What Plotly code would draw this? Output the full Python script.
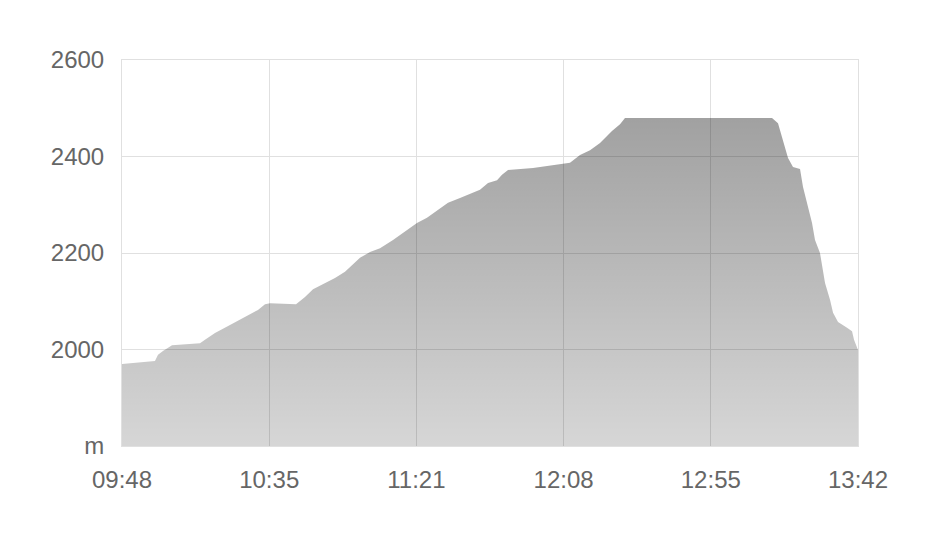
import plotly.graph_objects as go

day = "2024-01-01 "
times = ["09:48:00", "09:53:43", "09:58:29", "09:59:27", "10:01:02", "10:03:54", "10:12:48",
         "10:14:23", "10:17:34", "10:22:20", "10:27:07", "10:31:14", "10:33:28", "10:35:04",
         "10:43:20", "10:46:11", "10:48:44", "10:52:32", "10:55:43", "10:58:54", "11:02:05",
         "11:03:40", "11:06:51", "11:10:02", "11:14:10", "11:17:20", "11:21:47", "11:24:58",
         "11:29:06", "11:31:39", "11:35:28", "11:39:36", "11:41:49", "11:44:22", "11:47:14",
         "11:48:49", "11:50:44", "11:58:41", "12:08:13", "12:10:26", "12:13:37", "12:16:48",
         "12:19:59", "12:23:47", "12:26:20", "12:27:55", "12:51:46", "13:14:40", "13:16:34",
         "13:18:10", "13:19:45", "13:21:20", "13:23:34", "13:24:31", "13:26:07", "13:27:23",
         "13:28:20", "13:29:55", "13:31:31", "13:33:06", "13:34:04", "13:35:39", "13:38:31",
         "13:40:06", "13:40:44", "13:42:00"]
elevation = [1970, 1974, 1976, 1989, 1997, 2009, 2013,
             2020, 2034, 2051, 2067, 2082, 2094, 2096,
             2094, 2109, 2125, 2138, 2148, 2161, 2179,
             2190, 2202, 2210, 2227, 2241, 2262, 2273,
             2293, 2304, 2314, 2326, 2331, 2345, 2351,
             2362, 2372, 2376, 2384, 2387, 2403, 2413,
             2428, 2453, 2467, 2480, 2480, 2480, 2469,
             2434, 2397, 2378, 2374, 2337, 2295, 2262,
             2227, 2200, 2138, 2103, 2076, 2057, 2045,
             2038, 2020, 1999]

x_tick_vals = ["09:48:00", "10:34:48", "11:21:36", "12:08:24", "12:55:12", "13:42:00"]
x_tick_text = ["09:48", "10:35", "11:21", "12:08", "12:55", "13:42"]
y_tick_vals = [1800, 2000, 2200, 2400, 2600]
y_tick_text = ["m", "2000", "2200", "2400", "2600"]

fig = go.Figure()
fig.add_trace(go.Scatter(
    x=[day + t for t in times],
    y=elevation,
    mode="lines",
    line=dict(width=0, color="rgba(0,0,0,0)"),
    fill="tozeroy",
    fillgradient=dict(
        type="vertical",
        start=1800,
        stop=2480,
        colorscale=[[0, "rgba(0,0,0,0.16)"], [1, "rgba(0,0,0,0.37)"]],
    ),
    hoverinfo="skip",
    showlegend=False,
))

grid = "#e0e0e0"
font = dict(family="Liberation Sans, Arial, sans-serif", size=24, color="#666666")
fig.update_layout(
    width=928, height=539,
    margin=dict(l=114, r=78, t=52, b=101),
    paper_bgcolor="white", plot_bgcolor="white",
    font=font,
    xaxis=dict(
        range=[day + "09:48:00", day + "13:42:00"],
        tickvals=[day + t for t in x_tick_vals],
        ticktext=x_tick_text,
        showgrid=True, gridcolor=grid, gridwidth=1,
        showline=True, linecolor=grid, linewidth=1, mirror=True,
        ticks="", ticklabelstandoff=12,
        zeroline=False, fixedrange=True,
    ),
    yaxis=dict(
        range=[1800, 2600],
        tickvals=y_tick_vals,
        ticktext=y_tick_text,
        showgrid=True, gridcolor=grid, gridwidth=1,
        showline=True, linecolor=grid, linewidth=1, mirror=True,
        ticks="", ticklabelstandoff=12,
        zeroline=False, fixedrange=True,
    ),
)

fig.write_html("out.html")
